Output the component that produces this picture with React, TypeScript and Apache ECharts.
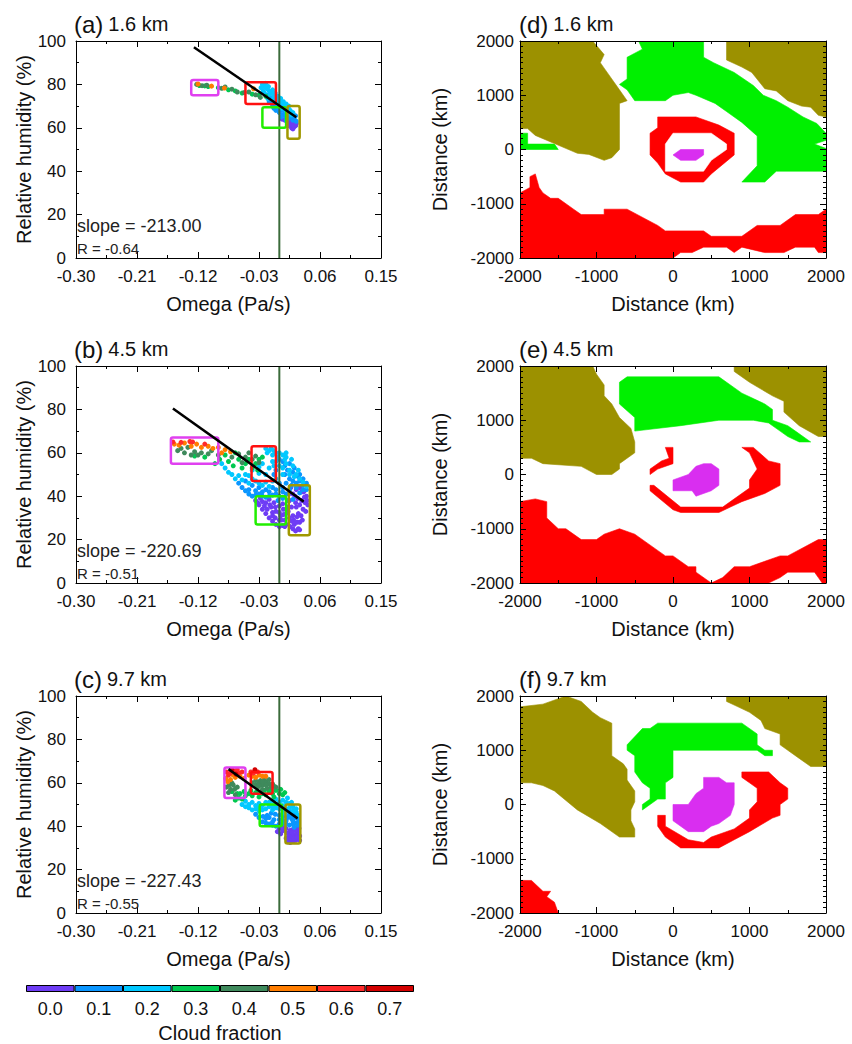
import React, { useEffect, useRef } from 'react';
import * as echarts from 'echarts';

const FONT = "'Liberation Sans', Arial, Helvetica, sans-serif";

// ---------- Cloud fraction colour scale ----------
const CF_LABELS = ['0.0', '0.1', '0.2', '0.3', '0.4', '0.5', '0.6', '0.7'];
const CF_COLORS = ['#6e3cf5', '#0a96ff', '#00c8ff', '#00c850', '#3f8a5c', '#ff7d00', '#ff2a2a', '#d30000'];

// ---------- Panel labels ----------
const SCATTER_LABELS = ['(a)', '(b)', '(c)'];
const MAP_LABELS = ['(d)', '(e)', '(f)'];
const HEIGHTS = ['1.6 km', '4.5 km', '9.7 km'];
const SLOPES = ['-213.00', '-220.69', '-227.43'];
const RVALUES = ['-0.64', '-0.51', '-0.55'];

// ---------- Axis ranges / ticks ----------
const OMEGA_MIN = -0.3;
const OMEGA_MAX = 0.15;
const OMEGA_STEP = 0.09;
const RH_MIN = 0;
const RH_MAX = 100;
const RH_STEP = 20;
const DIST_MIN = -2000;
const DIST_MAX = 2000;
const DIST_STEP = 1000;

// ---------- Scatter points [omega, RH] by cloud fraction class ----------
const PTS_A: number[][][] = [
  [[0.018, 60], [0.02, 59.5], [0.022, 60.5], [0.024, 61], [0.016, 61.5], [0.02, 62], [0.023, 62.5], [0.012, 62.5], [0.015, 63], [0.008, 63.5], [0.004, 64], [0.019, 63.5], [0.017, 62], [0.021, 61], [0.025, 62], [0.013, 61]],
  [[-0.015, 72], [-0.01, 70], [-0.005, 68], [0, 67], [0.005, 66], [0.01, 65], [0.014, 64.5], [0.018, 65], [0.022, 64], [0.02, 66.5], [0.012, 67], [0.006, 68.5], [0, 70], [-0.006, 71], [-0.012, 73.5], [-0.018, 75], [0.003, 65], [0.009, 66.5], [-0.003, 68.8], [0.016, 67.5], [0.024, 65.5], [-0.008, 69], [-0.01, 71.5], [-0.004, 69.5], [0.002, 68], [0.008, 67], [0.014, 66], [0.02, 63.5], [0.025, 63], [0.01, 63.5], [-0.015, 74]],
  [[-0.025, 80], [-0.022, 79], [-0.018, 78], [-0.02, 80.5], [-0.015, 77], [-0.012, 76], [-0.008, 74.5], [-0.004, 73], [0, 72], [0.004, 71], [0.008, 70], [0.012, 69], [0.016, 68], [0.02, 67], [-0.016, 79], [-0.01, 77.5], [-0.006, 76], [-0.002, 74.5], [0.002, 73.5], [0.006, 72], [0.01, 71], [0.014, 70], [-0.024, 77], [-0.027, 78.5], [-0.02, 78.5], [-0.014, 75.5], [-0.008, 72.5], [-0.002, 71], [0.004, 69], [0.01, 68], [0.018, 66], [-0.022, 76], [-0.017, 73.5], [-0.01, 73], [0.013, 67]],
  [[-0.118, 79.5], [-0.11, 79.3], [-0.105, 79], [-0.09, 78.5], [-0.075, 77.5], [-0.065, 77], [-0.055, 76], [-0.04, 75.5], [-0.03, 75], [-0.02, 74.5]],
  [[-0.122, 80], [-0.114, 79.4], [-0.107, 79.6], [-0.085, 78.2], [-0.08, 78.8], [-0.07, 77.8], [-0.062, 76.5], [-0.052, 76.2], [-0.045, 76.5], [-0.035, 75.2], [-0.028, 74]],
  [[-0.12, 80.2], [-0.1, 79.2], [-0.081, 78.3], [-0.038, 78]],
  [],
  [],
];

const PTS_B: number[][][] = [
  [[-0.035, 38], [-0.03, 36], [-0.025, 34], [-0.02, 32], [-0.015, 30], [-0.01, 28.5], [-0.005, 27], [0, 26], [0.005, 26.5], [-0.028, 39], [-0.02, 37], [-0.012, 35], [-0.005, 33], [0.002, 31], [0.008, 29], [-0.015, 38.5], [-0.008, 37], [0, 35.5], [0.006, 34], [0.01, 32], [-0.025, 37.5], [-0.01, 32.5], [0.003, 29], [0.01, 27], [0.015, 38], [0.018, 35], [0.02, 31], [0.022, 27], [0.024, 24], [0.028, 25], [0.03, 28], [0.032, 31], [0.035, 34], [0.038, 37], [0.04, 40], [0.036, 42], [0.03, 44], [0.025, 43], [0.02, 41], [0.017, 44], [0.027, 39], [0.033, 38], [0.025, 35], [0.028, 32], [0.021, 29], [0.026, 28], [0.03, 24.5], [0.014, 41], [0.042, 36], [0.039, 33],
    [-0.032, 37], [-0.022, 35.5], [-0.018, 34], [-0.01, 31], [-0.006, 30], [0, 29], [0, 32.5], [0.006, 31.5], [-0.014, 36], [-0.006, 35], [0.005, 36.5], [0.012, 35], [0.008, 26], [0.016, 26], [0.02, 25], [0.015, 30], [0.013, 33], [0.033, 42], [0.037, 39.5], [0.041, 38], [0.023, 40], [0.03, 36], [0.034, 29], [0.026, 30.5], [0.018, 28.5], [0.024, 37]],
  [[-0.06, 46], [-0.055, 44], [-0.05, 42.5], [-0.045, 41], [-0.04, 40], [-0.035, 40.5], [-0.03, 41], [-0.025, 40], [-0.02, 39.5], [-0.015, 40], [-0.01, 40.5], [-0.005, 41], [0, 40], [0.005, 39], [0.01, 41], [0.005, 44], [0, 46], [-0.01, 44], [-0.02, 43], [-0.03, 44], [-0.04, 45], [-0.05, 47], [0.01, 46], [0.015, 48], [0.02, 47], [0.025, 46], [0.03, 47], [0.035, 45], [0.04, 43], [0.012, 52], [0.015, 55], [0.005, 56], [0, 57], [0.008, 50], [0.02, 51], [0.03, 50], [-0.005, 52], [0.018, 45], [0.04, 46], [0.035, 48],
    [-0.045, 43], [-0.035, 42.5], [-0.025, 42], [-0.015, 42], [-0.005, 43], [0.005, 42], [0.015, 43], [0.025, 44], [0.03, 41.5], [0.012, 38], [-0.002, 38], [0.02, 38.5], [0.028, 49], [0.022, 53], [0.008, 54], [-0.008, 50], [0.035, 43]],
  [[-0.085, 55], [-0.08, 53], [-0.075, 51], [-0.07, 50], [-0.065, 48], [-0.06, 49.5], [-0.055, 47.5], [-0.05, 50], [-0.045, 46], [-0.04, 48], [-0.035, 47], [-0.03, 46], [-0.025, 45], [-0.02, 46.5], [-0.015, 44.5], [-0.01, 47], [-0.005, 48], [-0.02, 50], [-0.03, 50.5], [-0.04, 52], [-0.015, 53], [-0.01, 56], [-0.018, 60], [-0.02, 62], [-0.015, 61], [-0.01, 59], [-0.005, 60], [0, 60], [0.005, 59], [-0.008, 54], [-0.025, 55], [0.01, 58], [-0.03, 53.5], [-0.045, 49.5],
    [-0.005, 56], [0, 54], [0.005, 53], [0.01, 55], [0.015, 52], [0.02, 54], [0.025, 50], [0.03, 48], [0.035, 46.5], [0.04, 44.5], [0.005, 50], [-0.002, 58], [0.008, 57], [-0.012, 62], [-0.008, 61], [0.015, 50], [0.022, 49], [0.028, 52], [0.018, 57], [0.01, 60]],
  [[-0.095, 55], [-0.088, 57], [-0.075, 56], [-0.068, 54], [-0.06, 57], [-0.055, 53], [-0.05, 55], [-0.045, 57], [-0.04, 53], [-0.035, 55], [-0.03, 57], [-0.025, 58], [-0.032, 52], [-0.11, 58], [-0.125, 58.5], [-0.08, 59], [-0.065, 60]],
  [[-0.15, 61], [-0.145, 62], [-0.14, 60], [-0.13, 59], [-0.125, 60.5], [-0.12, 59], [-0.115, 60], [-0.105, 59.5], [-0.1, 61], [-0.09, 59], [-0.07, 58], [-0.06, 59.5], [-0.05, 58], [-0.045, 60], [-0.04, 57], [-0.035, 58.5], [-0.055, 55.5], [-0.03, 55.5], [-0.135, 62.5]],
  [[-0.155, 64], [-0.148, 63.5], [-0.14, 64.5], [-0.13, 63], [-0.122, 64], [-0.115, 62.5], [-0.105, 63], [-0.098, 62], [-0.09, 62.5], [-0.08, 61.5], [-0.085, 60], [-0.072, 60.5]],
  [[-0.157, 65], [-0.145, 64.8], [-0.132, 65.2], [-0.128, 65], [-0.11, 64]],
  [],
];

const PTS_C: number[][][] = [
  [[0.012, 33], [0.016, 32.5], [0.02, 33], [0.024, 33.5], [0.028, 34], [0.014, 35], [0.018, 35.5], [0.022, 36], [0.026, 36.5], [0.011, 37], [0.016, 38], [0.02, 38.5], [0.025, 39], [0.028, 37.5], [0.005, 38], [0, 39], [0.008, 39.5], [-0.003, 37.5], [0.002, 36.5], [0.03, 35.5],
    [0.01, 34.5], [0.014, 33.5], [0.018, 34], [0.022, 34.5], [0.026, 35], [0.03, 33.5], [0.013, 36.5], [0.019, 37], [0.024, 38], [0.029, 39], [0.01, 39], [0.003, 40]],
  [[-0.025, 42], [-0.02, 41.5], [-0.015, 41], [-0.01, 40.5], [-0.005, 40], [0, 41], [0.005, 41.5], [0.01, 41], [0.015, 40.5], [0.02, 41], [0.025, 41.5], [0.028, 42], [0.024, 44], [0.018, 43.5], [0.012, 44], [0.006, 44.5], [0, 45], [-0.006, 45.5], [-0.012, 46], [-0.018, 45], [-0.024, 44.5], [-0.03, 44], [0.022, 46], [0.026, 45], [0.015, 46.5], [-0.035, 45.5], [0.004, 43], [-0.008, 43],
    [-0.02, 43.5], [-0.01, 42], [0, 43], [0.01, 42.5], [0.02, 42.5], [0.028, 43.5], [0.014, 45], [-0.015, 44], [0.005, 46], [0.02, 44.5], [0.027, 40.5], [0.022, 39.5]],
  [[-0.055, 50], [-0.05, 49], [-0.045, 48.5], [-0.04, 47.5], [-0.035, 48], [-0.03, 47], [-0.025, 47.5], [-0.02, 48], [-0.015, 49], [-0.01, 49], [-0.005, 48.5], [0, 48], [0.005, 47.5], [0.01, 48], [0.015, 48.5], [0.02, 49], [0.025, 48], [0.01, 51], [0.005, 52], [0, 51], [-0.005, 52.5], [-0.01, 51.5], [-0.02, 51], [-0.03, 50.5], [-0.04, 51], [0.012, 53], [0.018, 51],
    [-0.045, 50], [-0.035, 49.5], [-0.025, 49.5], [-0.015, 51], [-0.005, 50], [0.005, 49.5], [0.015, 50.5], [0.02, 47], [0.025, 46.5], [0.028, 45], [-0.05, 51.5], [-0.03, 48.5], [0.008, 46], [-0.01, 47.5]],
  [[-0.065, 52], [-0.06, 53], [-0.055, 52.5], [-0.05, 54], [-0.045, 55], [-0.04, 54], [-0.035, 55.5], [-0.03, 53.5], [-0.025, 55], [-0.02, 54.5], [-0.015, 56], [-0.01, 55], [-0.005, 56.5], [0, 55], [0.005, 54.5], [0.008, 55.5], [-0.058, 55], [-0.07, 56],
    [-0.052, 56], [-0.042, 56.5], [-0.032, 56], [-0.022, 56.5], [-0.012, 57], [0.002, 57], [-0.062, 55], [-0.008, 53.5]],
  [[-0.078, 58], [-0.072, 57], [-0.068, 59], [-0.062, 58], [-0.075, 55.5], [-0.065, 54.5], [-0.07, 60], [-0.035, 59], [-0.03, 60], [-0.025, 59], [-0.02, 60.5], [-0.015, 59.5], [-0.012, 58], [-0.018, 57.5], [-0.025, 57], [-0.032, 58], [-0.028, 61], [-0.022, 62], [-0.008, 58.5], [-0.005, 58], [-0.015, 61.5],
    [-0.04, 60], [-0.035, 61], [-0.03, 58.5], [-0.02, 59], [-0.01, 59.5], [-0.025, 60.5], [-0.074, 59], [-0.066, 57]],
  [[-0.079, 62], [-0.072, 61.5], [-0.065, 62.5], [-0.058, 63], [-0.052, 62], [-0.045, 63.5], [-0.04, 63], [-0.035, 62.5], [-0.03, 63.5], [-0.025, 63], [-0.02, 63], [-0.076, 60.5], [-0.068, 63.5]],
  [[-0.078, 65], [-0.072, 64.5], [-0.066, 65.5], [-0.06, 64.5], [-0.055, 65], [-0.042, 65], [-0.038, 64.5], [-0.032, 65], [-0.075, 63.5], [-0.062, 66]],
  [[-0.07, 66], [-0.064, 64], [-0.036, 66]],
];

// ---------- Regression lines (endpoints) ----------
const FIT_A = [[-0.126, 97.1], [0.025, 64.9]];
const FIT_B = [[-0.157, 80.4], [0.036, 37.5]];
const FIT_C = [[-0.075, 66.3], [0.027, 43.6]];

// ---------- Region boxes [omegaMin, omegaMax, rhMin, rhMax] : magenta, red, green, olive ----------
const BOX_COLORS = ['#e040f0', '#ff1010', '#22ee00', '#a09800'];
const BOX_A = [[-0.13, -0.09, 75, 82], [-0.05, -0.005, 71, 81], [-0.025, 0.01, 60, 69.5], [0.012, 0.03, 55, 70]];
const BOX_B = [[-0.16, -0.09, 55, 67], [-0.041, -0.005, 47, 63], [-0.035, 0.01, 27, 40], [0.014, 0.045, 22, 45]];
const BOX_C = [[-0.081, -0.05, 53, 67], [-0.042, -0.01, 55, 65], [-0.029, 0.004, 40, 50], [0.009, 0.031, 32, 50]];

// ---------- Region maps (polygons in km) ----------
const MAP_COLORS: Record<string, string> = { olive: '#9c9100', green: '#00f000', red: '#ff0000', magenta: '#d92ef0', white: '#ffffff' };

const MAP_D = [
  { c: 'olive', pts: [[-2000, 2000], [-1050, 2000], [-900, 1750], [-950, 1600], [-900, 1500], [-800, 1300], [-700, 1100], [-600, 900], [-700, 850], [-700, 0], [-800, -150], [-900, -200], [-1100, -90], [-1250, -70], [-1550, 110], [-1800, 260], [-1900, 385], [-2000, 385]] },
  { c: 'olive', pts: [[700, 2000], [2000, 2000], [2000, 600], [1900, 630], [1800, 780], [1680, 800], [1500, 900], [1350, 1080], [1200, 1120], [1030, 1420], [900, 1520], [700, 1650]] },
  { c: 'green', pts: [[-2000, 300], [-1900, 300], [-1900, 100], [-1550, 100], [-1500, 0], [-2000, 0]] },
  { c: 'green', pts: [[-450, 2000], [400, 2000], [400, 1700], [530, 1600], [800, 1420], [1050, 1180], [1180, 1000], [1350, 900], [1500, 780], [1700, 600], [1880, 480], [2000, 300], [2000, 170], [1850, 100], [2000, 20], [2000, -400], [1350, -400], [1200, -600], [900, -600], [1100, -300], [1100, 250], [900, 500], [700, 700], [550, 850], [300, 1000], [200, 1050], [0, 1000], [-100, 900], [-500, 900], [-600, 1100], [-700, 1200], [-600, 1300], [-600, 1700], [-400, 1850]] },
  { c: 'red', pts: [[-200, 600], [300, 600], [600, 450], [800, 300], [800, -100], [500, -450], [400, -600], [100, -600], [-100, -450], [-200, -250], [-300, -100], [-300, 300], [-200, 400]] },
  { c: 'white', pts: [[0, 300], [500, 300], [700, 100], [700, 0], [500, -200], [400, -400], [-100, -400], [-100, -100], [-100, 100]] },
  { c: 'magenta', pts: [[100, 0], [400, 0], [400, -100], [300, -200], [100, -200], [0, -100]] },
  { c: 'red', pts: [[-2000, -800], [-1870, -700], [-1870, -500], [-1800, -450], [-1750, -700], [-1700, -800], [-1600, -900], [-1500, -900], [-1300, -1100], [-1200, -1200], [-900, -1200], [-900, -1100], [-600, -1100], [-200, -1400], [-100, -1500], [400, -1500], [500, -1600], [900, -1600], [1100, -1400], [1400, -1400], [1600, -1200], [1900, -1200], [2000, -1100], [2000, -1900], [1900, -1900], [1850, -1800], [1600, -1800], [1450, -1900], [1200, -1900], [900, -1800], [800, -1900], [700, -1800], [400, -1800], [250, -1900], [100, -1900], [0, -2000], [-2000, -2000]] },
];

const MAP_E = [
  { c: 'olive', pts: [[-2000, 2000], [-1050, 2000], [-1000, 1850], [-900, 1650], [-900, 1450], [-800, 1300], [-700, 1050], [-550, 850], [-500, 600], [-500, 400], [-700, 200], [-700, 100], [-800, 0], [-1000, 0], [-1200, 150], [-1700, 200], [-1850, 300], [-2000, 300]] },
  { c: 'olive', pts: [[800, 2000], [2000, 2000], [2000, 700], [1900, 700], [1650, 900], [1450, 1150], [1450, 1350], [1300, 1450], [1000, 1700], [800, 1900]] },
  { c: 'green', pts: [[-700, 1700], [-600, 1800], [600, 1800], [800, 1600], [900, 1500], [1050, 1400], [1200, 1300], [1300, 1200], [1300, 1000], [1500, 900], [1600, 800], [1800, 600], [1650, 600], [1500, 700], [1400, 800], [1250, 950], [1050, 1000], [600, 1000], [100, 900], [-500, 800], [-500, 1050], [-700, 1300]] },
  { c: 'red', pts: [[900, 500], [1050, 500], [1250, 250], [1400, 200], [1400, -200], [1200, -350], [900, -500], [750, -600], [600, -700], [100, -700], [0, -650], [-300, -300], [-300, -200], [-250, -200], [100, -600], [650, -600], [1000, -250], [1000, -100], [1100, 100], [1000, 400]] },
  { c: 'red', pts: [[-100, 500], [0, 500], [0, 200], [-200, 100], [-300, 0], [-300, 100], [-150, 250], [-50, 300]] },
  { c: 'magenta', pts: [[0, -100], [200, 0], [300, 150], [400, 200], [500, 200], [600, 100], [600, -200], [500, -300], [300, -400], [250, -300], [0, -300]] },
  { c: 'red', pts: [[-2000, -500], [-1800, -450], [-1650, -500], [-1650, -800], [-1500, -1000], [-1400, -1000], [-1200, -1200], [-1000, -1200], [-900, -1100], [-700, -1000], [-500, -1100], [-100, -1500], [0, -1500], [200, -1700], [300, -1700], [300, -1800], [500, -2000], [650, -1900], [800, -1700], [1000, -1700], [1200, -1600], [1400, -1500], [1500, -1500], [1700, -1350], [1900, -1200], [2000, -1200], [2000, -2000], [1950, -2000], [1900, -1900], [1850, -1800], [1500, -1800], [1400, -1900], [1250, -2000], [-2000, -2000]] },
];

const MAP_F = [
  { c: 'olive', pts: [[-2000, 1800], [-1700, 1850], [-1600, 1900], [-1400, 2000], [-1200, 1900], [-1050, 1700], [-950, 1600], [-800, 1500], [-800, 900], [-650, 750], [-600, 650], [-600, 450], [-500, 250], [-500, 50], [-550, -100], [-550, -300], [-500, -450], [-500, -600], [-700, -600], [-950, -350], [-1250, -100], [-1550, 250], [-1700, 350], [-1850, 400], [-2000, 400]] },
  { c: 'olive', pts: [[700, 2000], [2000, 2000], [2000, 700], [1800, 700], [1650, 850], [1500, 1000], [1400, 1100], [1400, 1300], [1200, 1400], [1150, 1550], [1000, 1700], [850, 1800], [700, 1900]] },
  { c: 'green', pts: [[-600, 1100], [-400, 1400], [-300, 1400], [-200, 1500], [900, 1500], [1100, 1300], [1100, 1100], [1200, 1000], [1300, 1000], [1300, 900], [1200, 900], [1100, 1000], [0, 1000], [0, 500], [-100, 400], [-100, 100], [-200, 100], [-400, -100], [-400, 0], [-300, 100], [-300, 300], [-400, 400], [-500, 600], [-500, 900], [-600, 1000]] },
  { c: 'magenta', pts: [[0, 0], [200, 0], [300, 200], [400, 300], [400, 500], [600, 500], [700, 400], [800, 400], [800, 0], [750, -200], [600, -350], [500, -400], [400, -500], [200, -500], [0, -300]] },
  { c: 'red', pts: [[900, 600], [1250, 600], [1400, 400], [1500, 300], [1500, 100], [1400, 0], [1400, -200], [1300, -250], [1000, -500], [800, -650], [600, -800], [100, -800], [-100, -600], [-200, -400], [-200, -200], [-100, -200], [-100, -400], [200, -650], [400, -700], [500, -600], [800, -450], [1000, -250], [1000, -100], [1100, 50], [1100, 300], [1000, 400], [900, 500]] },
  { c: 'red', pts: [[-2000, -1400], [-1850, -1400], [-1700, -1600], [-1600, -1600], [-1650, -1700], [-1550, -1800], [-1500, -2000], [-2000, -2000]] },
];

// ---------- Layout ----------
const ROW_TOPS = [41, 366, 696];
const PLOT_H = 217;
const SC_LEFT = 76;
const SC_W = 305;
const MAP_LEFT = 520;
const MAP_W = 306;

const SCATTER_PANELS = [
  { pts: PTS_A, fit: FIT_A, boxes: BOX_A },
  { pts: PTS_B, fit: FIT_B, boxes: BOX_B },
  { pts: PTS_C, fit: FIT_C, boxes: BOX_C },
];
const MAP_PANELS = [MAP_D, MAP_E, MAP_F];

const TITLE_RICH = {
  p: { fontSize: 24, fontWeight: 'normal', fontFamily: FONT, color: '#111', lineHeight: 28 },
  k: { fontSize: 20, fontWeight: 'normal', fontFamily: FONT, color: '#111', lineHeight: 28 },
};

function buildOption() {
  const grid: any[] = [];
  const xAxis: any[] = [];
  const yAxis: any[] = [];
  const series: any[] = [];
  const title: any[] = [];

  const tickStyle = { color: '#000', width: 1 };
  const mkX = (gi: number, pos: 'bottom' | 'top', map: boolean) => ({
    gridIndex: gi,
    type: 'value',
    position: pos,
    min: map ? DIST_MIN : OMEGA_MIN,
    max: map ? DIST_MAX : OMEGA_MAX,
    interval: map ? DIST_STEP : OMEGA_STEP,
    axisLine: { show: true, onZero: false, lineStyle: tickStyle },
    axisTick: { show: true, inside: true, length: 6, lineStyle: tickStyle },
    minorTick: { show: true, splitNumber: 2, length: 3, lineStyle: tickStyle },
    splitLine: { show: false },
    axisLabel: pos === 'bottom'
      ? { show: true, fontSize: 17, color: '#111', margin: 10, fontFamily: FONT, formatter: (v: number) => (map ? String(Math.round(v)) : v.toFixed(2)) }
      : { show: false },
    name: pos === 'bottom' ? (map ? 'Distance (km)' : 'Omega (Pa/s)') : '',
    nameLocation: 'middle',
    nameGap: 36,
    nameTextStyle: { fontSize: 20, color: '#111', fontFamily: FONT },
    z: 5,
  });
  const mkY = (gi: number, pos: 'left' | 'right', map: boolean) => ({
    gridIndex: gi,
    type: 'value',
    position: pos,
    min: map ? DIST_MIN : RH_MIN,
    max: map ? DIST_MAX : RH_MAX,
    interval: map ? DIST_STEP : RH_STEP,
    axisLine: { show: true, onZero: false, lineStyle: tickStyle },
    axisTick: { show: true, inside: true, length: 6, lineStyle: tickStyle },
    minorTick: { show: true, splitNumber: map ? 10 : 2, length: 3, lineStyle: tickStyle },
    splitLine: { show: false },
    axisLabel: pos === 'left'
      ? { show: true, fontSize: 17, color: '#111', margin: map ? 6 : 10, fontFamily: FONT, formatter: (v: number) => String(Math.round(v)) }
      : { show: false },
    name: pos === 'left' ? (map ? 'Distance (km)' : 'Relative humidity (%)') : '',
    nameLocation: 'middle',
    nameGap: map ? 70 : 42,
    nameTextStyle: { fontSize: 20, color: '#111', fontFamily: FONT },
    z: 5,
  });

  // Scatter panels
  SCATTER_PANELS.forEach((p, r) => {
    const gi = grid.length;
    const top = ROW_TOPS[r];
    grid.push({ left: SC_LEFT, top, width: SC_W, height: PLOT_H });
    const xi = xAxis.length;
    xAxis.push(mkX(gi, 'bottom', false), mkX(gi, 'top', false));
    const yi = yAxis.length;
    yAxis.push(mkY(gi, 'left', false), mkY(gi, 'right', false));

    p.pts.forEach((cls, ci) => {
      if (!cls.length) return;
      series.push({
        type: 'scatter', xAxisIndex: xi, yAxisIndex: yi, data: cls,
        symbol: 'circle', symbolSize: 5, silent: true,
        itemStyle: { color: CF_COLORS[ci], opacity: 1 }, z: 2,
      });
    });
    series.push({
      type: 'line', xAxisIndex: xi, yAxisIndex: yi, data: [[0, RH_MIN], [0, RH_MAX]],
      symbol: 'none', silent: true, lineStyle: { color: '#3b6b3b', width: 2 }, z: 3,
    });
    const boxes = p.boxes;
    series.push({
      type: 'custom', xAxisIndex: xi, yAxisIndex: yi, silent: true, z: 4,
      data: boxes.map((b) => [b[0], b[2]]),
      renderItem: (params: any, api: any) => {
        const b = boxes[params.dataIndex];
        const p0 = api.coord([b[0], b[3]]);
        const p1 = api.coord([b[1], b[2]]);
        return {
          type: 'rect',
          shape: { x: p0[0], y: p0[1], width: p1[0] - p0[0], height: p1[1] - p0[1], r: 2 },
          style: { fill: 'none', stroke: BOX_COLORS[params.dataIndex], lineWidth: 2.5 },
        };
      },
    });
    series.push({
      type: 'line', xAxisIndex: xi, yAxisIndex: yi, data: p.fit,
      symbol: 'none', silent: true, lineStyle: { color: '#000', width: 2.5 }, z: 5,
    });

    title.push({
      left: SC_LEFT - 2, top: top - 31, padding: 0,
      text: `{p|${SCATTER_LABELS[r]}} {k|${HEIGHTS[r]}}`,
      textStyle: { fontWeight: 'normal', rich: TITLE_RICH },
    });
    title.push({
      left: SC_LEFT + 1, top: top + 176, padding: 0,
      text: `slope = ${SLOPES[r]}`,
      textStyle: { fontSize: 18, fontWeight: 'normal', fontFamily: FONT, color: '#222', lineHeight: 18 },
    });
    title.push({
      left: SC_LEFT + 1, top: top + 200, padding: 0,
      text: `R = ${RVALUES[r]}`,
      textStyle: { fontSize: 15, fontWeight: 'normal', fontFamily: FONT, color: '#222', lineHeight: 15 },
    });
  });

  // Map panels
  MAP_PANELS.forEach((polys, r) => {
    const gi = grid.length;
    const top = ROW_TOPS[r];
    grid.push({ left: MAP_LEFT, top, width: MAP_W, height: PLOT_H });
    const xi = xAxis.length;
    xAxis.push(mkX(gi, 'bottom', true), mkX(gi, 'top', true));
    const yi = yAxis.length;
    yAxis.push(mkY(gi, 'left', true), mkY(gi, 'right', true));
    series.push({
      type: 'custom', xAxisIndex: xi, yAxisIndex: yi, silent: true, z: 1, clip: true,
      data: polys.map((pl) => [pl.pts[0][0], pl.pts[0][1]]),
      renderItem: (params: any, api: any) => {
        const pl = polys[params.dataIndex];
        const col = MAP_COLORS[pl.c];
        return {
          type: 'polygon',
          shape: { points: pl.pts.map((pt) => api.coord(pt)) },
          style: { fill: col, stroke: col, lineWidth: 0.6 },
        };
      },
    });
    title.push({
      left: MAP_LEFT - 1, top: top - 31, padding: 0,
      text: `{p|${MAP_LABELS[r]}} {k|${HEIGHTS[r]}}`,
      textStyle: { fontWeight: 'normal', rich: TITLE_RICH },
    });
  });

  // Colour bar
  const cgi = grid.length;
  grid.push({ left: 26, top: 985, width: 388, height: 8 });
  const cxi = xAxis.length;
  xAxis.push({
    gridIndex: cgi, type: 'category', data: CF_LABELS,
    axisLine: { show: false }, axisTick: { show: false }, splitLine: { show: false },
    axisLabel: { fontSize: 18, color: '#111', margin: 8, fontFamily: FONT },
    name: 'Cloud fraction', nameLocation: 'middle', nameGap: 31,
    nameTextStyle: { fontSize: 20, color: '#111', fontFamily: FONT },
  });
  const cyi = yAxis.length;
  yAxis.push({ gridIndex: cgi, type: 'value', min: 0, max: 1, show: false });
  series.push({
    type: 'bar', xAxisIndex: cxi, yAxisIndex: cyi, silent: true,
    barWidth: '100%', barCategoryGap: '0%',
    data: CF_COLORS.map((c) => ({ value: 1, itemStyle: { color: c, borderColor: '#000', borderWidth: 1 } })),
  });

  return {
    animation: false,
    backgroundColor: '#ffffff',
    textStyle: { fontFamily: FONT },
    title, grid, xAxis, yAxis, series,
  };
}

export default function App() {
  const ref = useRef<HTMLDivElement>(null);
  useEffect(() => {
    if (!ref.current) return;
    const chart = echarts.init(ref.current, undefined, { renderer: 'svg' });
    chart.setOption(buildOption() as any);
    return () => chart.dispose();
  }, []);
  return <div ref={ref} style={{ position: 'fixed', left: 0, top: 0, width: 852, height: 1044, background: '#fff' }} />;
}
